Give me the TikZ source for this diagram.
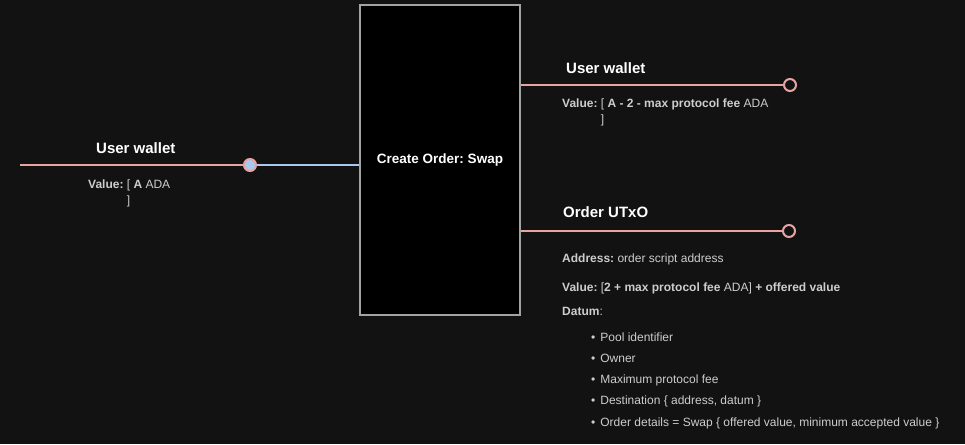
\documentclass[tikz,border=0pt]{standalone}
\usepackage{fontspec}
\setmainfont{Liberation Sans}
\usepackage{tikz}
\usetikzlibrary{positioning}
\frenchspacing
\definecolor{bgdark}{HTML}{121212}
\definecolor{wirepink}{HTML}{E8A3A3}
\definecolor{wireblue}{HTML}{A8C8F0}
\definecolor{boxedge}{HTML}{A3A3A3}
\definecolor{txtgray}{HTML}{CDCDCD}
\tikzstyle{txbox} = [rectangle, draw=boxedge, line width=1.5pt, fill=black, minimum width=160pt, minimum height=310pt, text=white, font=\fontsize{13.5}{15}\selectfont\bfseries]
\tikzstyle{port} = [circle, draw=wirepink, line width=2pt, minimum size=12pt, inner sep=0pt, fill=bgdark]
\tikzstyle{wire} = [wirepink, line width=1.5pt]
\tikzstyle{title} = [anchor=base west, inner sep=0pt, text=white, font=\fontsize{15}{18}\selectfont\bfseries]
\tikzstyle{info} = [anchor=base west, inner sep=0pt, text=txtgray, align=left, font=\fontsize{12}{16}\selectfont]

\begin{document}
\begin{tikzpicture}[x=1pt, y=-1pt]
        \useasboundingbox[fill=bgdark] (0,0) rectangle (965,444);

        % Transaction
        \node (swap) [txbox] at (440,160) {Create Order: Swap};

        % Input
        \coordinate (inleft) at (20,165);
        \node (inport) [port, fill=wireblue] at (250,165) {};
        \draw [wire] (inleft) -- (inport);
        \draw [wireblue, line width=1.5pt] (inport) -- (inport -| swap.west);
        \node (intitle) [title] at (96,153) {User wallet};
        \node (invalue) [info] at (88,204) {\textbf{Value:} [ \textbf{A} ADA\\\phantom{\textbf{Value:} }]};

        % Outputs
        \node (outport) [port] at (790,85) {};
        \draw [wire] (outport -| swap.east) -- (outport);
        \node (outtitle) [title] at (566,73) {User wallet};
        \node (outvalue) [info] at (562,123) {\textbf{Value:} [ \textbf{A - 2 - max protocol fee} ADA\\\phantom{\textbf{Value:} }]};

        \node (ordport) [port] at (789,231) {};
        \draw [wire] (ordport -| swap.east) -- (ordport);
        \node (ordtitle) [title] at (563,217) {Order UTxO};
        \node (ordaddr) [info] at (562,262) {\textbf{Address:} order script address};
        \node (ordvalue) [info] at (562,291) {\textbf{Value:} [\textbf{2 + max protocol fee} ADA] \textbf{+ offered value}};
        \node (orddatum) [info] at (562,315) {\textbf{Datum}:};
        \node (datumlist) [info, font=\fontsize{12}{21.2}\selectfont] at (591,426) {%
            \textbullet\hspace{5pt}Pool identifier\\
            \textbullet\hspace{5pt}Owner\\
            \textbullet\hspace{5pt}Maximum protocol fee\\
            \textbullet\hspace{5pt}Destination \{ address, datum \}\\
            \textbullet\hspace{5pt}Order details = Swap \{ offered value, minimum accepted value \}};
    \end{tikzpicture}
\end{document}
